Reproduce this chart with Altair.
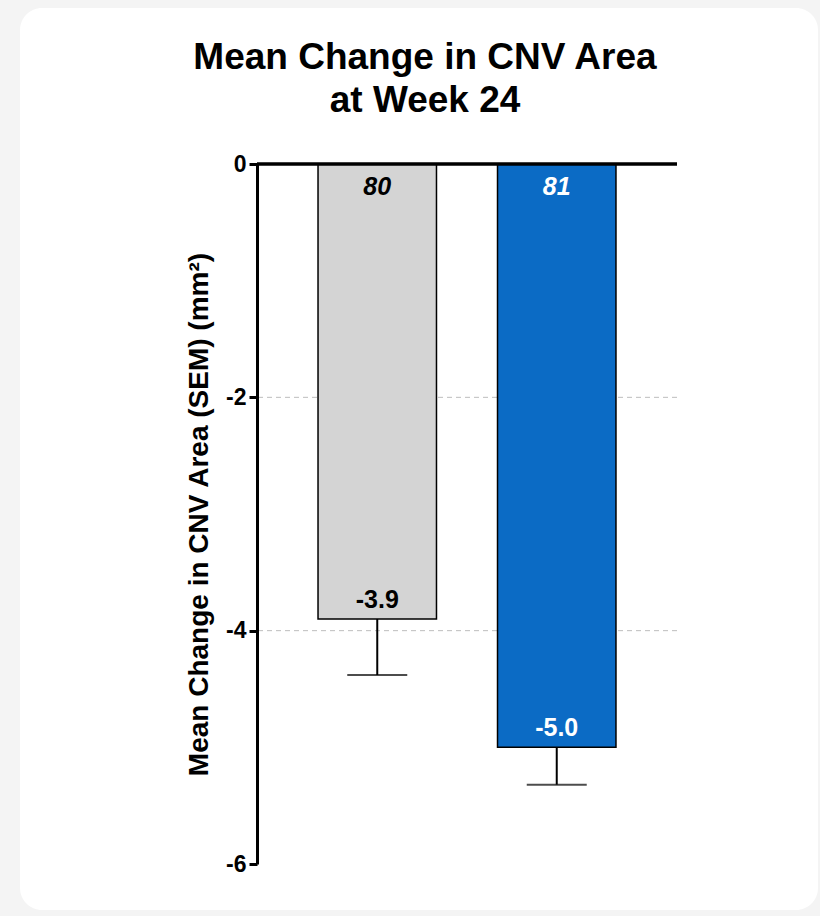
import altair as alt
import pandas as pd

# Study arms, patient counts, mean change and SEM at week 24
groups = ["Comparator", "Treatment"]
n_patients = ["80", "81"]
mean_change = [-3.9, -5.0]
sem = [0.48, 0.32]
value_labels = ["-3.9", "-5.0"]

y_ticks = [0, -2, -4, -6]
grid_levels = [-2, -4]
title_lines = ["Mean Change in CNV Area", "at Week 24"]

df = pd.DataFrame({
    "group": groups,
    "n": n_patients,
    "mean": mean_change,
    "low": [m - s for m, s in zip(mean_change, sem)],
    "label": value_labels,
})
grid_df = pd.DataFrame({"level": grid_levels})

FONT = "Liberation Sans"
W, H = 420, 700

x_enc = alt.X(
    "group:N",
    sort=groups,
    scale=alt.Scale(paddingInner=0.34, paddingOuter=0.34),
    axis=None,
)
y_scale = alt.Scale(domain=[-6, 0], nice=False, zero=False)

# White rounded card behind the whole figure
card = alt.Chart(alt.Data(values=[{}])).mark_rect(
    color="white", cornerRadius=22
).encode(
    x=alt.value(-237), x2=alt.value(561),
    y=alt.value(-156), y2=alt.value(746),
)

# Two-line heading inside the card
heading = alt.Chart(alt.Data(values=[{}])).mark_text(
    font=FONT, fontSize=37, fontWeight="bold", color="black",
    align="center", baseline="alphabetic", lineHeight=43,
).encode(
    x=alt.value(168), y=alt.value(-95), text=alt.value(title_lines)
)

grid = alt.Chart(grid_df).mark_rule(
    color="#bdbdbd", strokeWidth=1, strokeDash=[5, 4]
).encode(y=alt.Y("level:Q", scale=y_scale))

err = alt.Chart(df).mark_rule(color="black", strokeWidth=2).encode(
    x=x_enc, y=alt.Y("mean:Q", scale=y_scale), y2="low:Q"
)
caps = alt.Chart(df).mark_tick(
    orient="horizontal", size=60, thickness=2, color="black"
).encode(x=x_enc, y=alt.Y("low:Q", scale=y_scale))

bars = alt.Chart(df).mark_bar(stroke="black", strokeWidth=1.5).encode(
    x=x_enc,
    y=alt.Y(
        "mean:Q",
        scale=y_scale,
        axis=alt.Axis(
            values=y_ticks,
            labelExpr="'' + datum.value",
            title="Mean Change in CNV Area (SEM) (mm²)",
            titleFontSize=28,
            titleFontWeight="bold",
            titleColor="black",
            titlePadding=12,
            labelFontSize=23,
            labelFontWeight="bold",
            labelColor="black",
            labelPadding=3,
            domainColor="black",
            domainWidth=3,
            tickColor="black",
            tickWidth=3,
            tickSize=8,
            grid=False,
            zindex=1,
        ),
    ),
    y2=alt.datum(0),
    color=alt.Color(
        "group:N",
        scale=alt.Scale(domain=groups, range=["#d4d4d4", "#0b6bc5"]),
        legend=None,
    ),
)

zero_line = alt.Chart(alt.Data(values=[{}])).mark_rule(
    color="black", strokeWidth=3.5
).encode(y=alt.Y("z:Q", scale=y_scale)).transform_calculate(z="0")

text_color = alt.condition(
    alt.datum.group == "Treatment", alt.value("white"), alt.value("black")
)

n_text = alt.Chart(df).mark_text(
    font=FONT, fontSize=25, fontWeight="bold", fontStyle="italic",
    baseline="top", dy=11,
).encode(
    x=x_enc, y=alt.Y("zero:Q", scale=y_scale), text="n:N", color=text_color
).transform_calculate(zero="0")

val_text = alt.Chart(df).mark_text(
    font=FONT, fontSize=25, fontWeight="bold", baseline="bottom", dy=-6,
).encode(
    x=x_enc, y=alt.Y("mean:Q", scale=y_scale), text="label:N", color=text_color
)

chart = alt.layer(
    card, heading, grid, err, caps, bars, zero_line, n_text, val_text
).properties(
    width=W,
    height=H,
    padding={"left": 20, "top": 8, "right": 2, "bottom": 6},
    background="#f4f4f4",
).configure(font=FONT).configure_view(strokeWidth=0)

chart.save("out.html", embed_options={"renderer": "svg", "actions": False})
